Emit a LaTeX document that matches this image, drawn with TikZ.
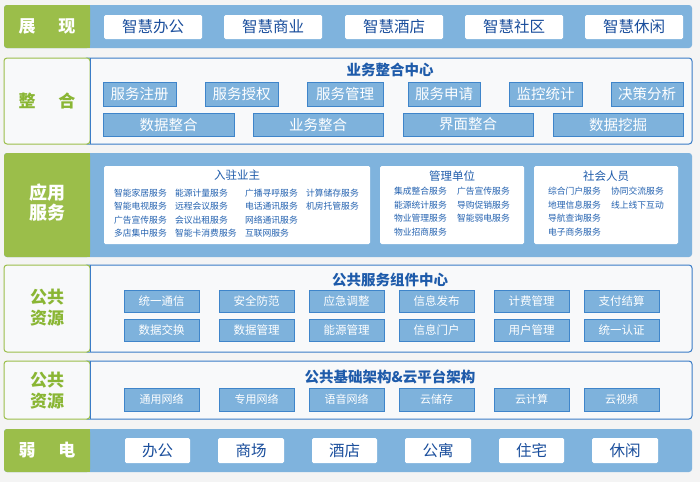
\documentclass[tikz,border=0pt]{standalone}
\usepackage{fontspec}
\setmainfont{Noto Sans CJK SC}
\definecolor{bgc}{HTML}{F4F4F4}
\definecolor{rowblue}{HTML}{7FB3DD}
\definecolor{lgreen}{HTML}{9BBE4A}
\definecolor{gtext}{HTML}{8AB634}
\definecolor{boxblue}{HTML}{7EB2DC}
\definecolor{boxedge}{HTML}{3F85CA}
\definecolor{paneledge}{HTML}{3A7CC6}
\definecolor{panelfill}{HTML}{F8F9FA}
\definecolor{dblue}{HTML}{1A4E9C}
\definecolor{hblue}{HTML}{1E5BAA}
\definecolor{iblue}{HTML}{2462B0}
\newcommand\mybox[7]{\node[#6, minimum width=#4pt-#2pt, minimum height=#5pt-#3pt] (#1) at ({(#2+#4)/2},{(#3+#5)/2}) {#7};}
\begin{document}
\begin{tikzpicture}[x=1pt,y=-1pt,
  every node/.style={inner sep=0pt,outer sep=0pt},
  wbox/.style={fill=white,rounded corners=1.5pt,text=dblue,font=\fontsize{15.5}{17}\selectfont},
  wbox6/.style={wbox,font=\fontsize{15.5}{17}\selectfont},
  bbox/.style={fill=boxblue,draw=boxedge,line width=0.8pt,text=white,font=\fontsize{14.5}{16}\selectfont},
  sbox/.style={bbox,font=\fontsize{11.5}{13}\selectfont},
  tbox/.style={bbox,font=\fontsize{11}{12}\selectfont},
  panel/.style={fill=panelfill,draw=paneledge,line width=1pt,rounded corners=3pt},
  lbox/.style={fill=panelfill,draw=lgreen,line width=1pt,rounded corners=3pt},
  gfill/.style={fill=lgreen},
  wlabel/.style={text=white,font=\bfseries\fontsize{17}{21}\selectfont,align=center},
  glabel/.style={text=gtext,font=\bfseries\fontsize{17}{21}\selectfont,align=center},
  head/.style={text=hblue,font=\bfseries\fontsize{14.5}{16}\selectfont},
  sub/.style={text=hblue,font=\fontsize{11.5}{13}\selectfont},
  item/.style={text=iblue,font=\fontsize{8.8}{10}\selectfont,anchor=west},
  ibox/.style={fill=white,rounded corners=1.5pt}
]
\useasboundingbox (0,0) rectangle (700,482);
\fill[bgc] (0,0) rectangle (700,482);

% ---------- Row 1 展现
\fill[rowblue,rounded corners=3pt] (4,5) rectangle (692,48);
\fill[lgreen,rounded corners=3pt] (4,5) rectangle (90,48);
\fill[lgreen] (84,5) rectangle (90,48);
\node[wlabel] (l1) at (47,26.5) {展\hspace{1.35em}现};
\mybox{a1}{104}{15}{202}{39}{wbox}{智慧办公}
\mybox{a2}{224}{15}{322}{39}{wbox}{智慧商业}
\mybox{a3}{345}{15}{443}{39}{wbox}{智慧酒店}
\mybox{a4}{465}{15}{563}{39}{wbox}{智慧社区}
\mybox{a5}{585}{15}{683}{39}{wbox}{智慧休闲}

% ---------- Row 2 整合
\draw[panel] (84,58) rectangle (692,144);
\draw[lbox] (4,58) rectangle (90,144);
\draw[paneledge,line width=1pt] (90,58) -- (90,144);
\node[glabel] (l2) at (47,101) {整\hspace{1.35em}合};
\node[head] (h2) at (390,70) {业务整合中心};
\mybox{b1}{103}{82}{176}{106}{bbox}{服务注册}
\mybox{b2}{205}{82}{278}{106}{bbox}{服务授权}
\mybox{b3}{307}{82}{383}{106}{bbox}{服务管理}
\mybox{b4}{408}{82}{480}{106}{bbox}{服务申请}
\mybox{b5}{509}{82}{582}{106}{bbox}{监控统计}
\mybox{b6}{611}{82}{683}{106}{bbox}{决策分析}
\mybox{c1}{103}{113}{234}{136}{bbox}{数据整合}
\mybox{c2}{253}{113}{383}{136}{bbox}{业务整合}
\mybox{c3}{403}{113}{533}{136}{bbox}{界面整合}
\mybox{c4}{553}{113}{683}{136}{bbox}{数据挖掘}

% ---------- Row 3 应用服务
\fill[rowblue,rounded corners=3pt] (4,153) rectangle (692,257);
\fill[lgreen,rounded corners=3pt] (4,153) rectangle (90,257);
\fill[lgreen] (84,153) rectangle (90,257);
\node[wlabel,font=\bfseries\fontsize{18}{20}\selectfont] (l3) at (47,203) {应用\\服务};
\mybox{p1}{104}{166}{370}{244}{ibox}{}
\mybox{p2}{380}{166}{524}{244}{ibox}{}
\mybox{p3}{534}{166}{678}{244}{ibox}{}
\node[sub] (s1) at (237,175.5) {入驻业主};
\node[sub] (s2) at (452,176) {管理单位};
\node[sub] (s3) at (606,176) {社会人员};
% 入驻业主
\node[item] (i11) at (114,193) {智能家居服务};
\node[item] (i12) at (114,206.5) {智能电视服务};
\node[item] (i13) at (114,220) {广告宣传服务};
\node[item] (i14) at (114,233.5) {多店集中服务};
\node[item] (i21) at (175,193) {能源计量服务};
\node[item] (i22) at (175,206.5) {远程会议服务};
\node[item] (i23) at (175,220) {会议出租服务};
\node[item] (i24) at (175,233.5) {智能卡消费服务};
\node[item] (i31) at (245,193) {广播寻呼服务};
\node[item] (i32) at (245,206.5) {电话通讯服务};
\node[item] (i33) at (245,220) {网络通讯服务};
\node[item] (i34) at (245,233.5) {互联网服务};
\node[item] (i41) at (306,193) {计算储存服务};
\node[item] (i42) at (306,206.5) {机房托管服务};
% 管理单位
\node[item] (j11) at (394,191.5) {集成整合服务};
\node[item] (j12) at (394,205) {能源统计服务};
\node[item] (j13) at (394,218.5) {物业管理服务};
\node[item] (j14) at (394,232) {物业招商服务};
\node[item] (j21) at (457,191.5) {广告宣传服务};
\node[item] (j22) at (457,205) {导购促销服务};
\node[item] (j23) at (457,218.5) {智能弱电服务};
% 社会人员
\node[item] (k11) at (548,191.5) {综合门户服务};
\node[item] (k12) at (548,205) {地理信息服务};
\node[item] (k13) at (548,218.5) {导航查询服务};
\node[item] (k14) at (548,232) {电子商务服务};
\node[item] (k21) at (611,191.5) {协同交流服务};
\node[item] (k22) at (611,205) {线上线下互动};

% ---------- Row 4 公共资源
\draw[panel] (84,265) rectangle (692,352);
\draw[lbox] (4,265) rectangle (90,352);
\draw[paneledge,line width=1pt] (90,265) -- (90,352);
\node[glabel] (l4) at (47,308) {公共\\资源};
\node[head] (h4) at (390,280) {公共服务组件中心};
\mybox{d1}{124}{290}{199}{312}{sbox}{统一通信}
\mybox{d2}{219}{290}{294}{312}{sbox}{安全防范}
\mybox{d3}{309}{290}{384}{312}{sbox}{应急调整}
\mybox{d4}{399}{290}{474}{312}{sbox}{信息发布}
\mybox{d5}{494}{290}{569}{312}{sbox}{计费管理}
\mybox{d6}{584}{290}{659}{312}{sbox}{支付结算}
\mybox{e1}{124}{319}{199}{341}{sbox}{数据交换}
\mybox{e2}{219}{319}{294}{341}{sbox}{数据管理}
\mybox{e3}{309}{319}{384}{341}{sbox}{能源管理}
\mybox{e4}{399}{319}{474}{341}{sbox}{信息门户}
\mybox{e5}{494}{319}{569}{341}{sbox}{用户管理}
\mybox{e6}{584}{319}{659}{341}{sbox}{统一认证}

% ---------- Row 5 公共资源
\draw[panel] (84,361) rectangle (692,419);
\draw[lbox] (4,361) rectangle (90,419);
\draw[paneledge,line width=1pt] (90,361) -- (90,419);
\node[glabel] (l5) at (47,391) {公共\\资源};
\node[head] (h5) at (390,377) {公共基础架构\&云平台架构};
\mybox{f1}{124}{388}{199}{411}{tbox}{通用网络}
\mybox{f2}{219}{388}{294}{411}{tbox}{专用网络}
\mybox{f3}{309}{388}{384}{411}{tbox}{语音网络}
\mybox{f4}{399}{388}{474}{411}{tbox}{云储存}
\mybox{f5}{494}{388}{569}{411}{tbox}{云计算}
\mybox{f6}{584}{388}{659}{411}{tbox}{云视频}

% ---------- Row 6 弱电
\fill[rowblue,rounded corners=3pt] (4,429) rectangle (692,472);
\fill[lgreen,rounded corners=3pt] (4,429) rectangle (90,472);
\fill[lgreen] (84,429) rectangle (90,472);
\node[wlabel] (l6) at (47,450.5) {弱\hspace{1.35em}电};
\mybox{g1}{125}{438}{190}{463}{wbox}{办公}
\mybox{g2}{218}{438}{284}{463}{wbox}{商场}
\mybox{g3}{312}{438}{377}{463}{wbox}{酒店}
\mybox{g4}{405}{438}{471}{463}{wbox}{公寓}
\mybox{g5}{499}{438}{564}{463}{wbox}{住宅}
\mybox{g6}{592}{438}{658}{463}{wbox}{休闲}
\end{tikzpicture}
\end{document}
